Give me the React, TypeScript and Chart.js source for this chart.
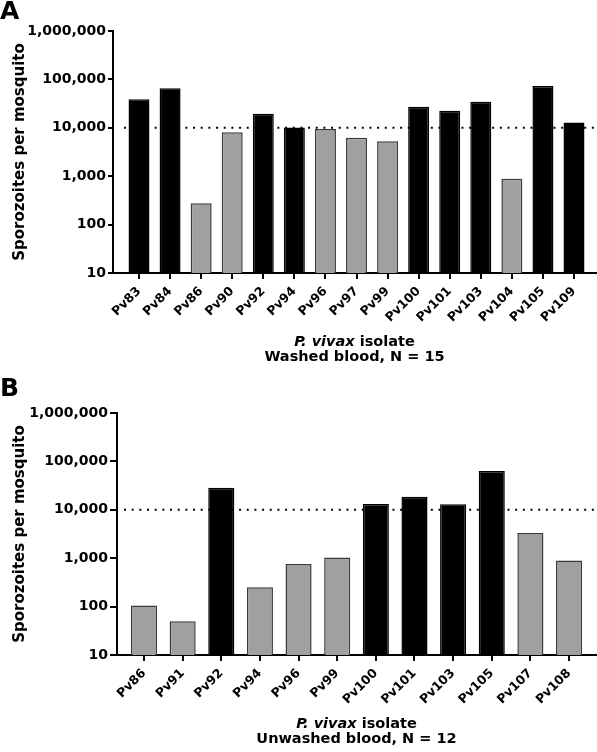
import React, { useEffect, useRef } from 'react';
import { Chart, registerables } from 'chart.js';

Chart.register(...registerables);

// ---- data ----
const isolatesWashed = ['Pv83', 'Pv84', 'Pv86', 'Pv90', 'Pv92', 'Pv94', 'Pv96', 'Pv97', 'Pv99', 'Pv100', 'Pv101', 'Pv103', 'Pv104', 'Pv105', 'Pv109'];
const sporozoitesWashed = [39000, 66000, 275, 8100, 19600, 10100, 9450, 6250, 5250, 27300, 22600, 34600, 890, 73000, 12800];

const isolatesUnwashed = ['Pv86', 'Pv91', 'Pv92', 'Pv94', 'Pv96', 'Pv99', 'Pv100', 'Pv101', 'Pv103', 'Pv105', 'Pv107', 'Pv108'];
const sporozoitesUnwashed = [106, 50, 28400, 250, 755, 1040, 13100, 18500, 13000, 63600, 3300, 900];

const yTickValues = [10, 100, 1000, 10000, 100000, 1000000];
const threshold = 10000;

const yAxisTitle = 'Sporozoites per mosquito';
const xTitleItalic = 'P. vivax';
const xTitleRest = ' isolate';
const subtitleWashed = 'Washed blood, N = 15';
const subtitleUnwashed = 'Unwashed blood, N = 12';

const FAMILY = "'DejaVu Sans', 'Liberation Sans', Arial, sans-serif";

type PanelProps = {
  letter: string;
  labels: string[];
  values: number[];
  subtitle: string;
  height: number;
  padTop: number;
  yAxisWidth: number;
  xAxisHeight: number;
  xMin: number;
  xMax: number;
  yTickLength: number;
  dotStart: number;
  letterBaseline: number;
};

function Panel(p: PanelProps) {
  const ref = useRef<HTMLCanvasElement | null>(null);

  useEffect(() => {
    const canvas = ref.current;
    if (!canvas) return;

    const decor = {
      id: 'panelDecor',
      beforeDatasetsDraw(chart: any) {
        const { ctx, chartArea, scales } = chart;
        const y = scales.y.getPixelForValue(threshold);
        ctx.save();
        ctx.strokeStyle = '#000';
        ctx.lineWidth = 2;
        ctx.setLineDash([2, 5.67]);
        ctx.beginPath();
        ctx.moveTo(chartArea.left + p.dotStart, y);
        ctx.lineTo(chartArea.right, y);
        ctx.stroke();
        ctx.restore();
      },
      afterDraw(chart: any) {
        const { ctx, chartArea } = chart;
        ctx.save();
        ctx.fillStyle = '#000';
        ctx.textBaseline = 'alphabetic';
        // panel letter
        ctx.font = `bold 25px ${FAMILY}`;
        ctx.textAlign = 'left';
        ctx.fillText(p.letter, 0, p.letterBaseline);
        // x-axis title (mixed italic)
        const cx = (chartArea.left + chartArea.right) / 2;
        const b1 = chartArea.bottom + 73;
        const b2 = chartArea.bottom + 88;
        const fItal = `italic bold 14.5px ${FAMILY}`;
        const fBold = `bold 14.5px ${FAMILY}`;
        ctx.font = fItal;
        const w1 = ctx.measureText(xTitleItalic).width;
        ctx.font = fBold;
        const w2 = ctx.measureText(xTitleRest).width;
        const startX = cx - (w1 + w2) / 2;
        ctx.font = fItal;
        ctx.fillText(xTitleItalic, startX, b1);
        ctx.font = fBold;
        ctx.fillText(xTitleRest, startX + w1, b1);
        ctx.textAlign = 'center';
        ctx.fillText(p.subtitle, cx, b2);
        ctx.restore();
      },
    };

    const chart = new Chart(canvas, {
      type: 'bar',
      data: {
        datasets: [
          {
            data: p.values.map((v, i) => ({ x: i, y: v })),
            backgroundColor: p.values.map((v) => (v >= threshold ? '#000000' : '#a0a0a0')),
            borderColor: p.values.map((v) => (v >= threshold ? '#000000' : '#3a3a3a')),
            borderWidth: 1.5,
            barPercentage: 0.675,
            categoryPercentage: 1,
          },
        ],
      },
      options: {
        responsive: false,
        animation: false,
        events: [],
        devicePixelRatio: 1,
        layout: { padding: { top: p.padTop, left: 0, right: 1, bottom: 0 } },
        plugins: { legend: { display: false }, tooltip: { enabled: false }, title: { display: false } },
        scales: {
          x: {
            type: 'linear',
            min: p.xMin,
            max: p.xMax,
            offset: false,
            afterFit: (s: any) => {
              s.height = p.xAxisHeight;
            },
            ticks: {
              stepSize: 1,
              autoSkip: false,
              includeBounds: false,
              minRotation: 45,
              maxRotation: 45,
              padding: 5,
              color: '#000',
              font: { family: FAMILY, size: 12.5, weight: 'bold' },
              callback: (v: any) => (Number.isInteger(v) ? p.labels[v] ?? '' : ''),
            },
            grid: { offset: false, drawOnChartArea: false, drawTicks: true, tickLength: 6, color: '#000', lineWidth: 2 },
            border: { display: true, color: '#000', width: 2 },
          },
          y: {
            type: 'logarithmic',
            min: 10,
            max: 1000000,
            afterBuildTicks: (s: any) => {
              s.ticks = yTickValues.map((v) => ({ value: v }));
            },
            afterFit: (s: any) => {
              s.width = p.yAxisWidth;
            },
            ticks: {
              padding: 2,
              color: '#000',
              font: { family: FAMILY, size: 14, weight: 'bold' },
              callback: (v: any) => Number(v).toLocaleString('en-US'),
            },
            grid: { drawOnChartArea: false, drawTicks: true, tickLength: p.yTickLength, color: '#000', lineWidth: 2 },
            border: { display: true, color: '#000', width: 2 },
            title: {
              display: true,
              text: yAxisTitle,
              color: '#000',
              font: { family: FAMILY, size: 15, weight: 'bold' },
              padding: { top: 11, bottom: 0 },
            },
          },
        },
      },
      plugins: [decor],
    } as any);

    return () => chart.destroy();
  }, [p]);

  return <canvas ref={ref} width={597} height={p.height} style={{ display: 'block', width: 597, height: p.height }} />;
}

const panelA: PanelProps = {
  letter: 'A',
  labels: isolatesWashed,
  values: sporozoitesWashed,
  subtitle: subtitleWashed,
  height: 376,
  padTop: 31,
  yAxisWidth: 113,
  xAxisHeight: 103,
  xMin: -0.837,
  xMax: 14.708,
  yTickLength: 5,
  dotStart: 11,
  letterBaseline: 19,
};

const panelB: PanelProps = {
  letter: 'B',
  labels: isolatesUnwashed,
  values: sporozoitesUnwashed,
  subtitle: subtitleUnwashed,
  height: 376,
  padTop: 37,
  yAxisWidth: 117,
  xAxisHeight: 97,
  xMin: -0.699,
  xMax: 11.698,
  yTickLength: 7,
  dotStart: 7,
  letterBaseline: 20,
};

export default function App() {
  useEffect(() => {
    document.body.style.margin = '0';
  }, []);
  return (
    <div style={{ position: 'fixed', left: 0, top: 0, width: 597, height: 752, background: '#fff' }}>
      <Panel {...panelA} />
      <Panel {...panelB} />
    </div>
  );
}
